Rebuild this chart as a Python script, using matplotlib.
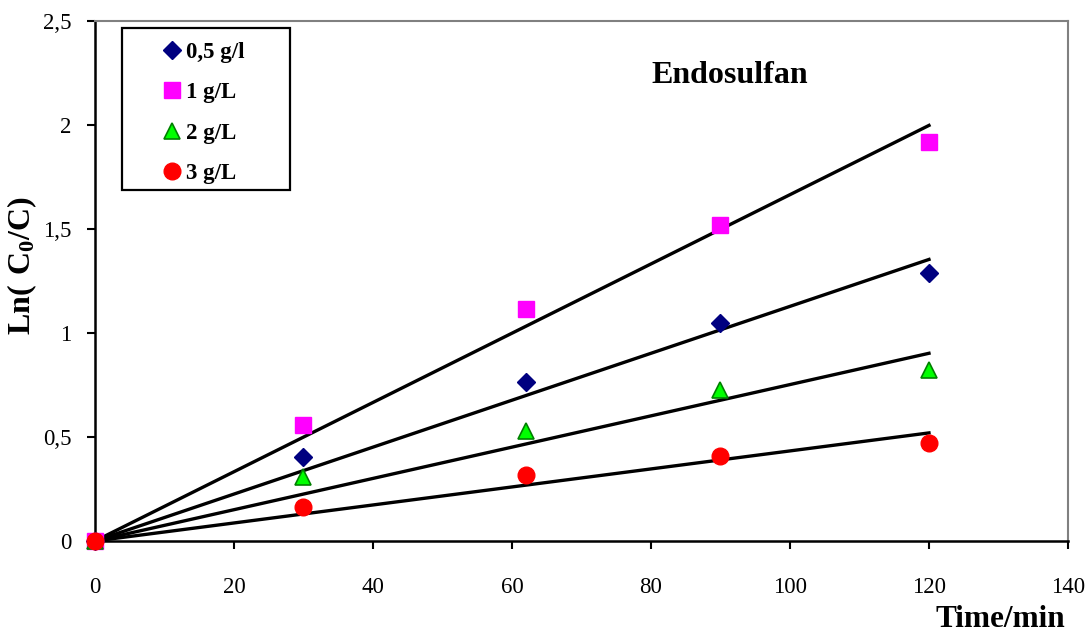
import numpy as np
import matplotlib
matplotlib.use('Agg')
import matplotlib.pyplot as plt
from matplotlib.patches import Rectangle
from matplotlib.ticker import FuncFormatter

plt.rcParams['font.family'] = ['Liberation Serif', 'DejaVu Serif']
plt.rcParams['mathtext.fontset'] = 'custom'
plt.rcParams['mathtext.rm'] = 'Liberation Serif'
plt.rcParams['mathtext.bf'] = 'Liberation Serif:bold'

# measured points, time in minutes
time = [0, 30, 62, 90, 120]
conc_05 = [0.0, 0.405, 0.765, 1.047, 1.29]
conc_1 = [0.0, 0.558, 1.115, 1.52, 1.92]
conc_2 = [0.0, 0.31, 0.53, 0.726, 0.82]
conc_3 = [0.0, 0.165, 0.317, 0.41, 0.473]

labels = ['0,5 g/l', '1 g/L', '2 g/L', '3 g/L']
# slopes of the fitted lines through the origin (1/min)
k_fit = [0.01128, 0.01665, 0.00752, 0.00433]
fit_end = 120


def main():
    fig = plt.figure(figsize=(10.92, 6.36), dpi=100)
    ax = fig.add_axes([0.087, 0.1494, 0.891, 0.8176])

    series = [conc_05, conc_1, conc_2, conc_3]
    styles = [
        dict(marker='D', color='#000080', mec='#000080', ms=9.5),
        dict(marker='s', color='#FF00FF', mec='#FF00FF', ms=11.5),
        dict(marker='^', color='#00FF00', mec='#008000', ms=11, mew=1.2),
        dict(marker='o', color='#FF0000', mec='#FF0000', ms=12),
    ]
    tline = np.array([0, fit_end])
    for y, k in zip(series, k_fit):
        ax.plot(tline, k * tline, color='black', lw=2.4, zorder=2)
    handles = []
    for y, st, lab in zip(series, styles, labels):
        h, = ax.plot(time, y, ls='none', label=lab, zorder=3, clip_on=False, **st)
        handles.append(h)

    ax.set_xlim(0, 140)
    ax.set_ylim(0, 2.5)
    ax.set_xticks(range(0, 141, 20))
    ax.set_yticks(np.arange(0, 2.51, 0.5))
    ax.yaxis.set_major_formatter(FuncFormatter(lambda v, p: ('%g' % v).replace('.', ',')))
    ax.tick_params(direction='out', length=6, width=1.5, labelsize=16.5)
    ax.tick_params(axis='x', pad=20)
    ax.tick_params(axis='y', pad=11)
    for s in ['left', 'bottom']:
        ax.spines[s].set_linewidth(1.8)
    for s in ['top', 'right']:
        ax.spines[s].set_color('#808080')
        ax.spines[s].set_linewidth(1.5)

    ax.set_xlabel('Time/min', fontsize=22.5, fontweight='bold', va='baseline', ha='right')
    ax.xaxis.set_label_coords(0.997, -0.166)
    ax.set_ylabel(r'$\mathbf{Ln(\ C_0/C)}$', fontsize=23)
    ax.yaxis.set_label_coords(-0.058, 0.53)

    ax.text(0.6526, 0.896, 'Endosulfan', transform=ax.transAxes,
            fontsize=23, fontweight='bold', ha='center', va='center')

    # legend box drawn separately so it can be wider than its entries
    ax.add_patch(Rectangle((0.0277, 0.675), 0.1727, 0.3115, transform=ax.transAxes,
                           fill=True, facecolor='white', edgecolor='black',
                           lw=1.6, zorder=4))
    leg = ax.legend(handles=handles, loc='upper left', bbox_to_anchor=(0.0709, 0.960),
                    prop={'weight': 'bold', 'size': 16.5}, frameon=False,
                    handlelength=0.7, handletextpad=0.25, labelspacing=0.85,
                    borderpad=0, borderaxespad=0)
    leg.set_zorder(5)

    fig.savefig('out.png', dpi=100)


if __name__ == '__main__':
    main()
